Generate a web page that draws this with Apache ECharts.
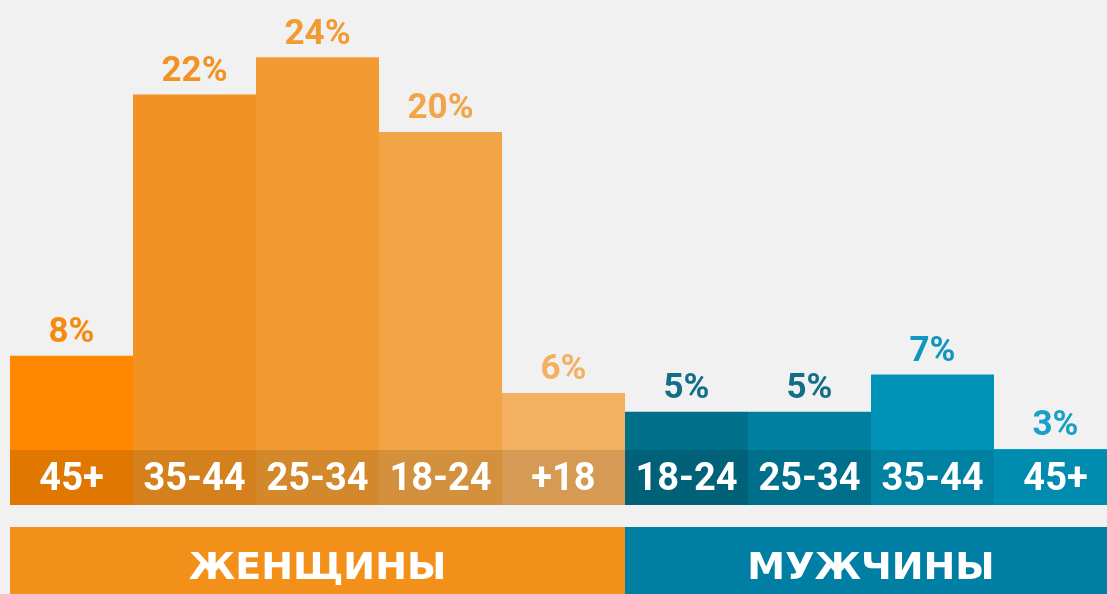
<!DOCTYPE html>
<html>
<head>
<meta charset="utf-8">
<script src="https://cdn.jsdelivr.net/npm/echarts@6/dist/echarts.min.js"></script>
<style>
  html, body { margin: 0; padding: 0; background: #f1f1f1; overflow: hidden; }
  /* the last bar runs past the right edge in the original, so the canvas is a bit wider */
  #chart { width: 1117px; height: 594px; }
</style>
</head>
<body>
<div id="chart"></div>
<script>
// age groups, left to right (women then men)
const ages = ['45+', '35-44', '25-34', '18-24', '+18', '18-24', '25-34', '35-44', '45+'];
const shares = [8, 22, 24, 20, 6, 5, 5, 7, 3];
const barColors = ['#ff8800', '#f29222', '#f29b33', '#f2a546', '#f3b060',
                   '#006f8a', '#007f9f', '#0093b8', '#00a0c6'];
const labelColors = ['#f58a10', '#f29222', '#f29b33', '#f2a546', '#f3b060',
                     '#136f87', '#136f87', '#1396bd', '#18a0c8'];
const groups = ['ЖЕНЩИНЫ', 'МУЖЧИНЫ'];
const groupSizes = [5, 4];
const groupColors = ['#f3901a', '#007ea3'];

const chart = echarts.init(document.getElementById('chart'));
const stripHeight = 2.95; // dark band under the bars, in axis units

const option = {
  backgroundColor: '#f1f1f1',
  animation: false,
  grid: [
    { left: 10, top: 20, right: 0, height: 485 },
    { left: 10, top: 527, right: 0, height: 67 }
  ],
  xAxis: [
    { gridIndex: 0, type: 'category', data: ages, show: false },
    { gridIndex: 1, type: 'value', min: 0, max: ages.length, show: false }
  ],
  yAxis: [
    { gridIndex: 0, type: 'value', min: 0, max: 26, show: false },
    { gridIndex: 1, type: 'category', data: ['g'], show: false }
  ],
  series: [
    {
      type: 'bar',
      xAxisIndex: 0, yAxisIndex: 0,
      barWidth: '100%',
      data: shares.map((v, i) => ({
        value: v,
        itemStyle: { color: barColors[i] },
        label: { color: labelColors[i] }
      })),
      label: {
        show: true,
        position: 'top',
        distance: 5,
        formatter: '{c}%',
        fontFamily: 'Roboto',
        fontWeight: 'bold',
        fontSize: 35
      }
    },
    {
      type: 'bar',
      xAxisIndex: 0, yAxisIndex: 0,
      barWidth: '100%',
      barGap: '-100%',
      data: ages.map(() => stripHeight),
      itemStyle: { color: 'rgba(0,0,0,0.12)' },
      label: {
        show: true,
        position: 'inside',
        offset: [0, 3],
        formatter: p => ages[p.dataIndex],
        color: '#ffffff',
        fontFamily: 'Roboto',
        fontWeight: 'bold',
        fontSize: 38
      }
    }
  ].concat(groups.map((g, i) => ({
    type: 'bar',
    name: g,
    xAxisIndex: 1, yAxisIndex: 1,
    stack: 'groups',
    barWidth: '100%',
    data: [groupSizes[i]],
    itemStyle: { color: groupColors[i] },
    label: {
      show: true,
      position: 'inside',
      offset: [0, 9],
      formatter: g,
      color: '#ffffff',
      fontFamily: 'DejaVu Sans',
      fontWeight: 'bold',
      fontSize: 38
    }
  })))
};

chart.setOption(option);
</script>
</body>
</html>
